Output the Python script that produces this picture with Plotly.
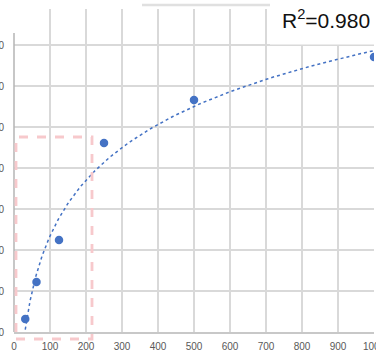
import numpy as np
import plotly.graph_objects as go

# Data (concentration vs. signal)
conc = [31.25, 62.5, 125, 250, 500, 1000]
signal = [0.159, 0.61, 1.122, 2.305, 2.83, 3.354]
x_ticks = [0, 100, 200, 300, 400, 500, 600, 700, 800, 900, 1000]
y_ticks = [0.0, 0.5, 1.0, 1.5, 2.0, 2.5, 3.0, 3.5]
r2_label = "R<sup>2</sup>=0.980"

# logarithmic trendline (as Excel computes it)
a, b = np.polyfit(np.log(conc), signal, 1)
xt = np.geomspace(min(conc), max(conc), 200)
yt = a * np.log(xt) + b

W, H = 376, 355
L, R, T, B = 14, 2, 9, 23
pw, ph = W - L - R, H - T - B

def px(xp):
    return (xp - L) / pw

def py(yp):
    return (H - B - yp) / ph

BLUE = "#4472c4"
GRID = "#d9d9d9"
TXT = "#595959"
FONT = "Liberation Sans Narrow, Arial Narrow, Liberation Sans, sans-serif"

fig = go.Figure()
fig.add_trace(go.Scatter(x=xt, y=yt, mode="lines",
                         line=dict(color=BLUE, width=1.5, dash="dot"),
                         hoverinfo="skip", showlegend=False))
fig.add_trace(go.Scatter(x=conc, y=signal, mode="markers",
                         marker=dict(color=BLUE, size=8.5),
                         showlegend=False))

shapes = [
    # y axis line (partial)
    dict(type="line", xref="paper", yref="paper", x0=0, x1=0, y0=0, y1=py(33),
         line=dict(color="#b4b4b4", width=1.5)),
    # stray top gridline fragment
    dict(type="line", xref="paper", yref="paper", x0=px(142), x1=px(270), y0=py(5), y1=py(5),
         line=dict(color="#e0e0e0", width=2.5)),
    # white box behind R^2 label
    dict(type="rect", xref="paper", yref="paper", x0=px(270), x1=px(380), y0=py(44.5), y1=py(-5),
         fillcolor="white", line=dict(width=0), layer="above"),
    # pink dashed highlight
    dict(type="rect", xref="paper", yref="paper", x0=px(16), x1=px(92), y0=py(339), y1=py(137),
         fillcolor="rgba(0,0,0,0)", line=dict(color="#f7c9cc", width=2.8, dash="dash"),
         layer="above"),
]

fig.update_layout(
    width=W, height=H,
    margin=dict(l=L, r=R, t=T, b=B, autoexpand=False),
    paper_bgcolor="white", plot_bgcolor="white",
    shapes=shapes,
    annotations=[dict(text=r2_label, xref="paper", yref="paper", x=px(326), y=py(19),
                      xanchor="center", yanchor="middle", showarrow=False,
                      font=dict(family=FONT, size=21, color="#111111"))],
    xaxis=dict(range=[0, 1000], tickvals=x_ticks, ticktext=[str(v) for v in x_ticks],
               showgrid=True, gridcolor=GRID, gridwidth=1.5,
               showline=True, linecolor="#c8c8c8", linewidth=1.5, zeroline=False,
               ticks="", ticklabelstandoff=4, ticklabeloverflow="allow",
               tickfont=dict(family=FONT, size=10, color=TXT), automargin=False),
    yaxis=dict(range=[0, (H - B - T) / 82.0], tickvals=y_ticks,
               ticktext=[f"{v:.2f}" for v in y_ticks],
               showgrid=True, gridcolor=GRID, gridwidth=1.5,
               showline=False, zeroline=False, ticks="", ticklabelstandoff=9,
               ticklabeloverflow="allow",
               tickfont=dict(family=FONT, size=10, color=TXT), automargin=False),
)

fig.write_html("out.html")
